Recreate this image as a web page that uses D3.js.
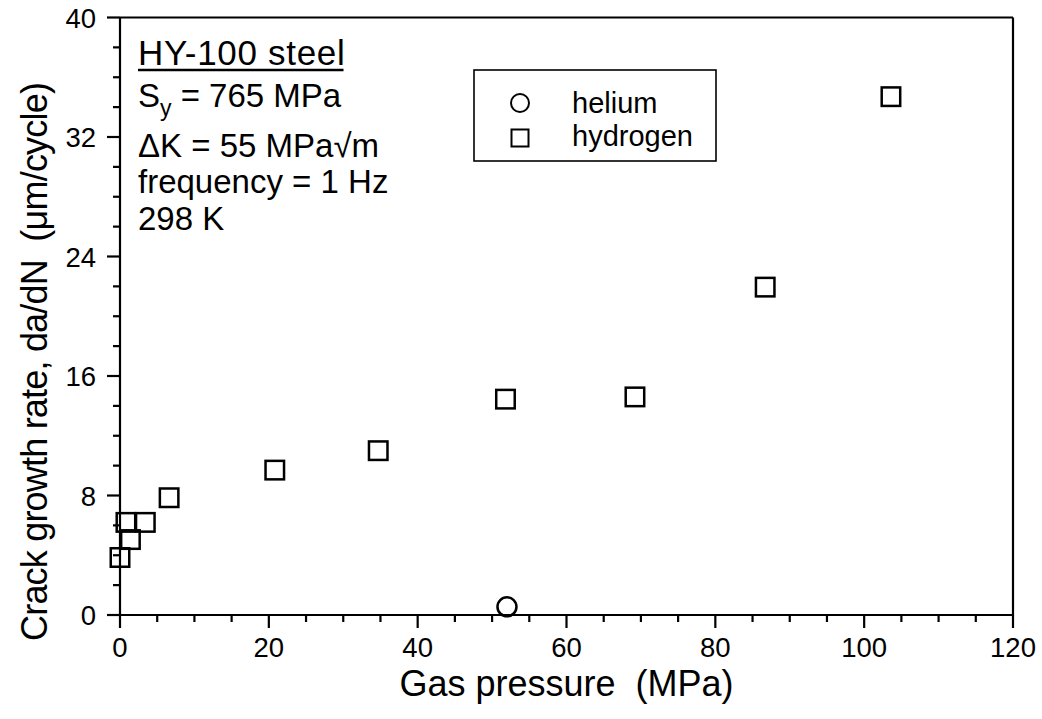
<!DOCTYPE html>
<html>
<head>
<meta charset="utf-8">
<script src="https://cdn.jsdelivr.net/npm/d3@7"></script>
<style>
  html, body { margin: 0; padding: 0; background: #fff; }
  svg { display: block; }
  text { font-family: "Liberation Sans", Arial, sans-serif; fill: #000; }
</style>
</head>
<body>
<svg id="chart" width="1042" height="719"></svg>
<script>
// Fatigue crack growth rate of HY-100 steel vs. gas pressure
const hydrogenPressure = [0.0, 0.8, 1.4, 3.4, 6.6, 20.8, 34.7, 51.8, 69.2, 86.7, 103.6];
const hydrogenRate     = [3.85, 6.2, 5.05, 6.2, 7.85, 9.7, 11.0, 14.45, 14.6, 21.95, 34.7];
const heliumPressure = [52.0];
const heliumRate     = [0.55];

const xTickLabels = [0, 20, 40, 60, 80, 100, 120];
const yTickLabels = [0, 8, 16, 24, 32, 40];

const notes = ["HY-100 steel", "S|y| = 765 MPa", "\u0394K = 55 MPa\u221Am", "frequency = 1 Hz", "298 K"];
const legendNames = ["helium", "hydrogen"];

const svg = d3.select("#chart");
const plotLeft = 120, plotRight = 1013, plotTop = 17.5, plotBottom = 615;

const x = d3.scaleLinear().domain([0, 120]).range([plotLeft, plotRight]);
const y = d3.scaleLinear().domain([0, 40]).range([plotBottom, plotTop]);

const axisColor = "#000";
const lw = 2.2;

// frame: top and right borders
svg.append("line").attr("x1", plotLeft).attr("x2", plotRight).attr("y1", plotTop).attr("y2", plotTop)
  .attr("stroke", axisColor).attr("stroke-width", lw);
svg.append("line").attr("x1", plotRight).attr("x2", plotRight).attr("y1", plotTop).attr("y2", plotBottom)
  .attr("stroke", axisColor).attr("stroke-width", lw);

// x axis with major and minor ticks
const xMinor = d3.range(0, 121, 5);
const xAxisG = svg.append("g").attr("transform", `translate(0,${plotBottom})`);
xAxisG.append("line").attr("x1", plotLeft).attr("x2", plotRight).attr("stroke", axisColor).attr("stroke-width", lw);
xAxisG.selectAll("line.tick").data(xMinor).join("line").attr("class", "tick")
  .attr("x1", d => x(d)).attr("x2", d => x(d))
  .attr("y1", 0).attr("y2", d => xTickLabels.includes(d) ? 13 : 7)
  .attr("stroke", axisColor).attr("stroke-width", lw);
xAxisG.selectAll("text").data(xTickLabels).join("text")
  .attr("x", d => x(d)).attr("y", 42)
  .attr("text-anchor", "middle").attr("font-size", 27.5)
  .text(d => d);

// y axis with major and minor ticks
const yMinor = d3.range(0, 41, 2);
const yAxisG = svg.append("g").attr("transform", `translate(${plotLeft},0)`);
yAxisG.append("line").attr("y1", plotTop).attr("y2", plotBottom).attr("stroke", axisColor).attr("stroke-width", lw);
yAxisG.selectAll("line.tick").data(yMinor).join("line").attr("class", "tick")
  .attr("y1", d => y(d)).attr("y2", d => y(d))
  .attr("x1", 0).attr("x2", d => yTickLabels.includes(d) ? -13 : -7)
  .attr("stroke", axisColor).attr("stroke-width", lw);
yAxisG.selectAll("text").data(yTickLabels).join("text")
  .attr("x", -24).attr("y", d => y(d) + 10)
  .attr("text-anchor", "end").attr("font-size", 27.5)
  .text(d => d);

// axis titles
svg.append("text")
  .attr("x", (plotLeft + plotRight) / 2).attr("y", 696)
  .attr("text-anchor", "middle").attr("font-size", 36)
  .attr("xml:space", "preserve")
  .text("Gas pressure  (MPa)");
svg.append("text")
  .attr("transform", "translate(47,641) rotate(-90)")
  .attr("text-anchor", "start").attr("font-size", 36)
  .attr("letter-spacing", -0.8)
  .attr("xml:space", "preserve")
  .text("Crack growth rate, da/dN  (\u03BCm/cycle)");

// test-condition notes
const noteY = [65, 107, 157, 193, 230];
const noteX = 138;
notes.forEach((s, i) => {
  const t = svg.append("text").attr("x", noteX).attr("y", noteY[i]).attr("font-size", 33);
  if (i === 0) t.attr("font-size", 35).attr("letter-spacing", 0.7);
  if (s.includes("|")) {
    const parts = s.split("|");
    t.append("tspan").text(parts[0]);
    t.append("tspan").attr("font-size", 23).attr("dy", 9).text(parts[1]);
    t.append("tspan").attr("dy", -9).text(parts[2]);
  } else {
    t.text(s);
  }
  if (i === 0) {
    const w = t.node().getBBox().width;
    svg.append("line").attr("x1", noteX).attr("x2", noteX + w - 2)
      .attr("y1", noteY[i] + 5).attr("y2", noteY[i] + 5)
      .attr("stroke", "#000").attr("stroke-width", 2.5);
  }
});

// data markers
const sq = 18.5;
svg.append("g").selectAll("rect").data(d3.zip(hydrogenPressure, hydrogenRate)).join("rect")
  .attr("x", d => x(d[0]) - sq / 2).attr("y", d => y(d[1]) - sq / 2)
  .attr("width", sq).attr("height", sq)
  .attr("fill", "none").attr("stroke", "#000").attr("stroke-width", 2.5);
svg.append("g").selectAll("circle").data(d3.zip(heliumPressure, heliumRate)).join("circle")
  .attr("cx", d => x(d[0])).attr("cy", d => y(d[1])).attr("r", 9.5)
  .attr("fill", "none").attr("stroke", "#000").attr("stroke-width", 2.5);

// legend
const lg = svg.append("g");
lg.append("rect").attr("x", 474).attr("y", 70).attr("width", 242).attr("height", 91)
  .attr("fill", "#fff").attr("stroke", "#000").attr("stroke-width", 1.6);
lg.append("circle").attr("cx", 520).attr("cy", 103).attr("r", 9)
  .attr("fill", "none").attr("stroke", "#000").attr("stroke-width", 2);
lg.append("rect").attr("x", 520 - 8.5).attr("y", 138 - 8.5).attr("width", 17).attr("height", 17)
  .attr("fill", "none").attr("stroke", "#000").attr("stroke-width", 2);
lg.selectAll("text").data(legendNames).join("text")
  .attr("x", 572).attr("y", (d, i) => 113 + i * 33)
  .attr("font-size", 29).text(d => d);
</script>
</body>
</html>
